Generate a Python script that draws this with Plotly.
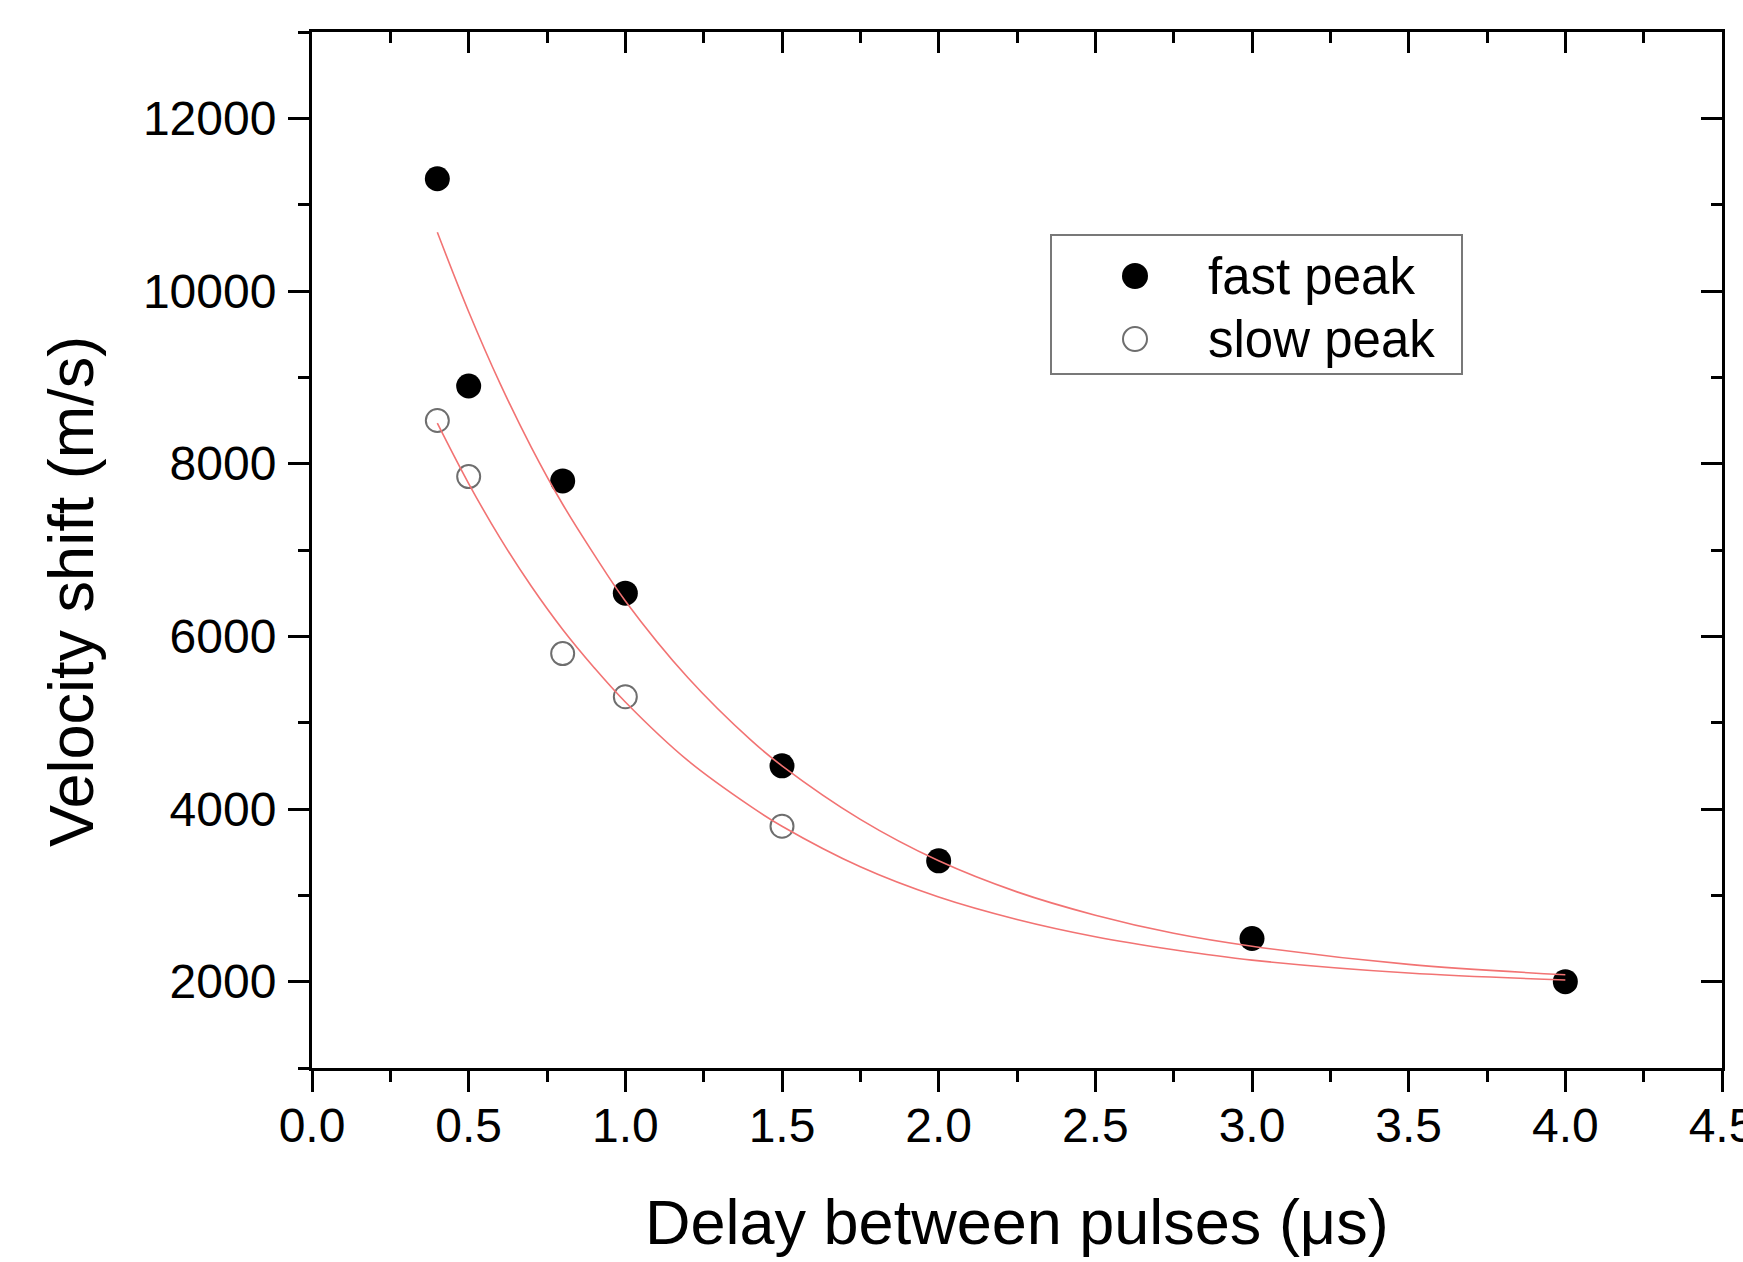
import plotly.graph_objects as go

# Measured velocity shift versus delay between the two pulses
delay_fast = [0.4, 0.5, 0.8, 1.0, 1.5, 2.0, 3.0, 4.0]
shift_fast = [11300, 8900, 7800, 6500, 4500, 3400, 2500, 2000]

delay_slow = [0.4, 0.5, 0.8, 1.0, 1.5]
shift_slow = [8500, 7850, 5800, 5300, 3800]

# Exponential-decay fit curves (sampled)
fit_x = [0.4, 0.5, 0.6, 0.7, 0.8, 0.9, 1.0, 1.2, 1.4, 1.5, 1.75, 2.0,
         2.25, 2.5, 2.75, 3.0, 3.5, 4.0]
fit_fast = [10680, 9760, 8930, 8190, 7530, 6950, 6410, 5520, 4800, 4500,
            3880, 3400, 3040, 2770, 2560, 2410, 2200, 2080]
fit_slow = [8470, 7770, 7140, 6580, 6080, 5640, 5240, 4560, 4030, 3800,
            3330, 2980, 2720, 2520, 2370, 2250, 2100, 2020]

legend_names = ["fast peak", "slow peak"]

FONT = "Liberation Sans, Arial, sans-serif"
FIT_COLOR = "rgb(242,115,115)"
OPEN_COLOR = "rgb(110,110,110)"

W, H = 1743, 1262
L, R, T, B = 312, 21, 32, 194
PW, PH = W - L - R, H - T - B


def px(x):
    return (x - L) / PW


def py(y):
    return (H - B - y) / PH


fig = go.Figure()

fig.add_trace(go.Scatter(
    x=delay_fast, y=shift_fast, mode="markers", name=legend_names[0],
    marker=dict(symbol="circle", size=25, color="black", line=dict(width=0)),
    showlegend=False))
fig.add_trace(go.Scatter(
    x=delay_slow, y=shift_slow, mode="markers", name=legend_names[1],
    marker=dict(symbol="circle-open", size=23, color=OPEN_COLOR,
                line=dict(width=2, color=OPEN_COLOR)),
    showlegend=False))

for ys in (fit_fast, fit_slow):
    fig.add_trace(go.Scatter(
        x=fit_x, y=ys, mode="lines",
        line=dict(color=FIT_COLOR, width=1.6, shape="spline", smoothing=1.0),
        showlegend=False, hoverinfo="skip"))

# empty trace that brings up the top/right frame axes
fig.add_trace(go.Scatter(x=[None], y=[None], xaxis="x2", yaxis="y2",
                         showlegend=False, hoverinfo="skip"))

tick_font = dict(family=FONT, size=48, color="black")

fig.update_layout(
    width=W, height=H,
    margin=dict(l=L, r=R, t=T, b=B, pad=0, autoexpand=False),
    paper_bgcolor="white", plot_bgcolor="white",
    font=dict(family=FONT, color="black"),
    xaxis=dict(
        range=[0, 4.5], dtick=0.5, tick0=0, tickformat=".1f",
        automargin=False,
        showgrid=False, zeroline=False, showline=True, linecolor="black",
        linewidth=3, ticks="outside", ticklen=21, tickwidth=2.5,
        tickcolor="black", tickfont=tick_font,
        ticklabeloverflow="allow", ticklabelstandoff=-8,
        minor=dict(dtick=0.25, tick0=0, ticks="outside", ticklen=11,
                   tickwidth=2.5, tickcolor="black", showgrid=False)),
    yaxis=dict(
        range=[1000, 13000], dtick=2000, tick0=0, tickformat="d",
        automargin=False,
        showgrid=False, zeroline=False, showline=True, linecolor="black",
        linewidth=3, ticks="outside", ticklen=21, tickwidth=2.5,
        tickcolor="black", tickfont=tick_font, ticklabelstandoff=2,
        minor=dict(dtick=1000, tick0=0, ticks="outside", ticklen=11,
                   tickwidth=2.5, tickcolor="black", showgrid=False)),
    xaxis2=dict(
        overlaying="x", side="top", anchor="y2", matches="x",
        range=[0, 4.5], dtick=0.5, tick0=0, showticklabels=False,
        automargin=False,
        showgrid=False, zeroline=False, showline=True, linecolor="black",
        linewidth=3, ticks="inside", ticklen=21, tickwidth=2.5,
        tickcolor="black",
        minor=dict(dtick=0.25, tick0=0, ticks="inside", ticklen=11,
                   tickwidth=2.5, tickcolor="black", showgrid=False)),
    yaxis2=dict(
        overlaying="y", side="right", anchor="x2", matches="y",
        range=[1000, 13000], dtick=2000, tick0=0, showticklabels=False,
        automargin=False,
        showgrid=False, zeroline=False, showline=True, linecolor="black",
        linewidth=3, ticks="inside", ticklen=21, tickwidth=2.5,
        tickcolor="black",
        minor=dict(dtick=1000, tick0=0, ticks="inside", ticklen=11,
                   tickwidth=2.5, tickcolor="black", showgrid=False)),
)

# axis titles
fig.add_annotation(
    text="Delay between pulses (μs)", xref="paper", yref="paper",
    x=0.5, y=py(1222), xanchor="center", yanchor="middle",
    showarrow=False, font=dict(family=FONT, size=63, color="black"))
fig.add_annotation(
    text="Velocity shift (m/s)", xref="paper", yref="paper",
    x=px(71), y=py(592), xanchor="center", yanchor="middle",
    textangle=-90, showarrow=False,
    font=dict(family=FONT, size=63, color="black"))

# legend box with symbols and labels
fig.add_shape(type="rect", xref="paper", yref="paper",
              x0=px(1051), x1=px(1462), y0=py(374), y1=py(235),
              line=dict(color="rgb(120,120,120)", width=2),
              fillcolor="white", layer="above")
legend_rows = [276, 339]
fig.add_shape(type="circle", xref="paper", yref="paper",
              xsizemode="pixel", ysizemode="pixel",
              xanchor=px(1135), yanchor=py(legend_rows[0]),
              x0=-13, x1=13, y0=-13, y1=13,
              fillcolor="black", line=dict(width=0), layer="above")
fig.add_shape(type="circle", xref="paper", yref="paper",
              xsizemode="pixel", ysizemode="pixel",
              xanchor=px(1135), yanchor=py(legend_rows[1]),
              x0=-12, x1=12, y0=-12, y1=12,
              fillcolor="white", line=dict(width=2, color=OPEN_COLOR),
              layer="above")
for name, row in zip(legend_names, legend_rows):
    fig.add_annotation(
        text=name, xref="paper", yref="paper", x=px(1206), y=py(row),
        xanchor="left", yanchor="middle", showarrow=False,
        font=dict(family=FONT, size=51, color="black"))

fig.write_html("out.html")
